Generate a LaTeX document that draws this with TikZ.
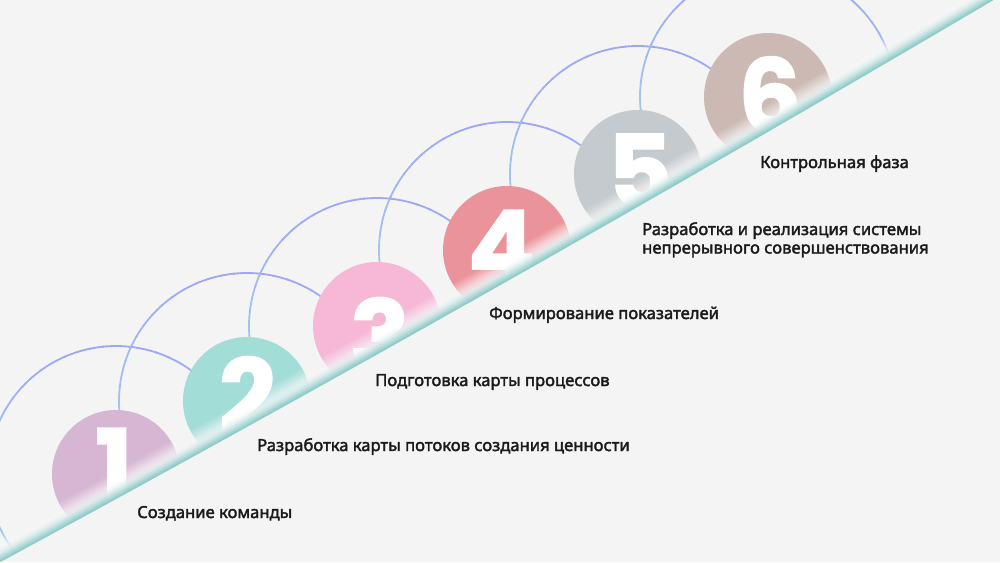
\documentclass[tikz,border=0pt]{standalone}
\usepackage{fontspec}
\setmainfont{Noto Sans}
\newfontfamily\lblfont{Noto Sans}[FakeBold=2.2]
\newfontfamily\digitfont{Poppins}[BoldFeatures={FakeBold=1.5}]
\definecolor{bg}{HTML}{F4F4F4}
\definecolor{cA}{HTML}{D6B6D2}
\definecolor{cB}{HTML}{A3DDD8}
\definecolor{cC}{HTML}{F6B8D4}
\definecolor{cD}{HTML}{EB939A}
\definecolor{cE}{HTML}{C5CACE}
\definecolor{cF}{HTML}{CCB9B4}
\definecolor{ringtop}{HTML}{9EA6F7}
\definecolor{ringside}{HTML}{A0C6EE}
\definecolor{bandteal}{HTML}{7EC7C4}
\definecolor{txt}{HTML}{1B1B1B}
\tikzset{
  disk/.style={circle, minimum size=128pt, inner sep=0pt, draw=none},
  digit/.style={anchor=base, inner sep=0pt, text=white, font=\digitfont\bfseries\fontsize{100}{100}\selectfont},
  lbl/.style={anchor=base west, inner sep=0pt, text=txt, font=\lblfont\fontsize{16.6}{18}\selectfont}
}
\begin{document}
\begin{tikzpicture}[x=1pt,y=-1pt]
\useasboundingbox (0,0) rectangle (1000,562);
\fill[bg] (0,0) rectangle (1000,562);
\begin{scope}
  \clip (0,562) .. controls (333.33,381.33) and (666.67,192.67) .. (1000,-4) -- (-20,-20) -- (-20,562) -- cycle;
  % rings
  \foreach \cx/\cy in {116/474,247/401,377/326,507/250,638/174,768/97} {
    \foreach \a in {0,6,...,354} {
      \pgfmathsetmacro\f{max(0,-sin(\a+3))*100}
      \draw[line width=1.8pt, draw=ringtop!\f!ringside] (\cx,\cy) ++(\a:128) arc[start angle=\a, end angle=\a+6.6, radius=128];
    }
  }
  % disks
  \node[disk, fill=cA] (s1) at (116,474) {};
  \node[disk, fill=cB] (s2) at (247,401) {};
  \node[disk, fill=cC] (s3) at (377,326) {};
  \node[disk, fill=cD] (s4) at (507,250) {};
  \node[disk, fill=cE] (s5) at (638,174) {};
  \node[disk, fill=cF] (s6) at (768,97) {};
  % digits
  \node[digit] (d1) at (114,501) {1};
  \node[digit] (d2) at (247.5,431) {2};
  \node[digit] (d3) at (380,372) {3};
  \node[digit] (d4) at (501.5,282) {4};
  \node[digit] (d5) at (640,207) {5};
  \node[digit] (d6) at (770,131) {6};
\end{scope}
% band: white fade
\foreach \k in {27,26,...,9} {
  \pgfmathsetmacro\A{min(0.93,max(0,0.93*(28-\k)/19))}
  \pgfmathsetmacro\B{min(0.93,max(0,0.93*(27-\k)/19))}
  \pgfmathsetmacro\op{1-(1-\A)/(1-\B)}
  \pgfmathsetmacro\t{\k+1}
  \fill[white, fill opacity=\op] (0,{562-\t}) .. controls (333.33,{381.33-\t}) and (666.67,{192.67-\t}) .. (1000,{-4-\t}) -- (1000,-4) .. controls (666.67,192.67) and (333.33,381.33) .. (0,562) -- cycle;
}
% band: teal edge
\foreach \k in {15,14,...,0} {
  \pgfmathsetmacro\A{0.88*((16-\k)/16)^1.7}
  \pgfmathsetmacro\B{0.88*((15-\k)/16)^1.7}
  \pgfmathsetmacro\op{1-(1-\A)/(1-\B)}
  \pgfmathsetmacro\t{\k+1}
  \fill[bandteal, fill opacity=\op] (0,{562-\t}) .. controls (333.33,{381.33-\t}) and (666.67,{192.67-\t}) .. (1000,{-4-\t}) -- (1000,-4) .. controls (666.67,192.67) and (333.33,381.33) .. (0,562) -- cycle;
}
% labels
\node[lbl] (t1) at (137,518) {Создание команды};
\node[lbl] (t2) at (257,451) {Разработка карты потоков создания ценности};
\node[lbl] (t3) at (375,386) {Подготовка карты процессов};
\node[lbl] (t4) at (489,319) {Формирование показателей};
\node[lbl] (t5a) at (642,235) {Разработка и реализация системы};
\node[lbl] (t5b) at (642,253.5) {непрерывного совершенствования};
\node[lbl] (t6) at (760,168) {Контрольная фаза};
\end{tikzpicture}
\end{document}
